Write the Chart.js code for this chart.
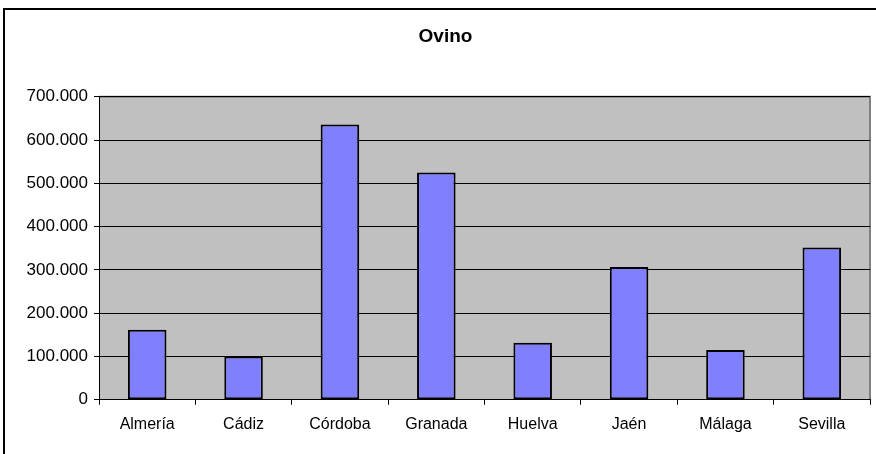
<!DOCTYPE html>
<html>
<head>
<meta charset="utf-8">
<script src="https://cdn.jsdelivr.net/npm/chart.js@4"></script>
<style>
  body { margin: 0; background: #fff; }
  canvas { display: block; }
</style>
</head>
<body>
<canvas id="chart" width="876" height="454"></canvas>
<script>
const provincias = ["Almería", "Cádiz", "Córdoba", "Granada", "Huelva", "Jaén", "Málaga", "Sevilla"];
const ovino = [162000, 100000, 636000, 525000, 132000, 307000, 115000, 352000];
const yMax = 700000;
const yStep = 100000;

// white page, outer frame and grey plot area (Excel look)
const excelBack = {
    id: "excelBack",
    beforeDraw(chart) {
        const ctx = chart.ctx;
        const a = chart.chartArea;
        ctx.save();
        ctx.fillStyle = "#fff";
        ctx.fillRect(0, 0, chart.width, chart.height);
        ctx.strokeStyle = "#000";
        ctx.lineWidth = 2;
        ctx.beginPath();
        ctx.moveTo(4, chart.height + 5);
        ctx.lineTo(4, 9);
        ctx.lineTo(chart.width + 5, 9);
        ctx.stroke();
        ctx.fillStyle = "#c0c0c0";
        ctx.fillRect(a.left, a.top, a.right - a.left, a.bottom - a.top);
        ctx.strokeStyle = "#808080";
        ctx.lineWidth = 2;
        ctx.beginPath();
        ctx.moveTo(a.left, a.top);
        ctx.lineTo(a.right, a.top);
        ctx.lineTo(a.right, a.bottom);
        ctx.stroke();
        ctx.restore();
    }
};

function miles(v) {
    return String(v).replace(/\B(?=(\d{3})+(?!\d))/g, ".");
}

const ctx = document.getElementById("chart").getContext("2d");
const myChart = new Chart(ctx, {
    type: "bar",
    data: {
        labels: provincias,
        datasets: [{
            label: "Ovino",
            data: ovino,
            backgroundColor: "#8080ff",
            borderColor: "#000",
            borderWidth: 2,
            borderSkipped: false,
            barPercentage: 1,
            categoryPercentage: 0.4
        }]
    },
    options: {
        responsive: false,
        animation: false,
        devicePixelRatio: 1,
        layout: { padding: { left: 21, right: 6, top: 0, bottom: 10 } },
        plugins: {
            legend: { display: false },
            tooltip: { enabled: false },
            title: {
                display: true,
                text: "Ovino",
                color: "#000",
                font: { family: "'Liberation Sans', Arial, sans-serif", size: 19, weight: "bold" },
                padding: { top: 25, bottom: 49 }
            }
        },
        scales: {
            x: {
                grid: {
                    drawOnChartArea: false,
                    drawTicks: true,
                    tickLength: 5,
                    tickColor: "#000",
                    offset: true
                },
                border: { color: "#000", width: 1 },
                ticks: {
                    color: "#000",
                    padding: 10,
                    maxRotation: 0,
                    font: { family: "'Liberation Sans', Arial, sans-serif", size: 16 }
                }
            },
            y: {
                min: 0,
                max: yMax,
                afterFit(scale) { scale.width = 78; },
                grid: {
                    color: "#000",
                    lineWidth: 1,
                    tickLength: 5,
                    tickColor: "#000"
                },
                border: { color: "#000", width: 1 },
                ticks: {
                    stepSize: yStep,
                    color: "#000",
                    padding: 6,
                    font: { family: "'Liberation Sans', Arial, sans-serif", size: 17 },
                    callback: (v) => miles(v)
                }
            }
        }
    },
    plugins: [excelBack]
});
</script>
</body>
</html>
